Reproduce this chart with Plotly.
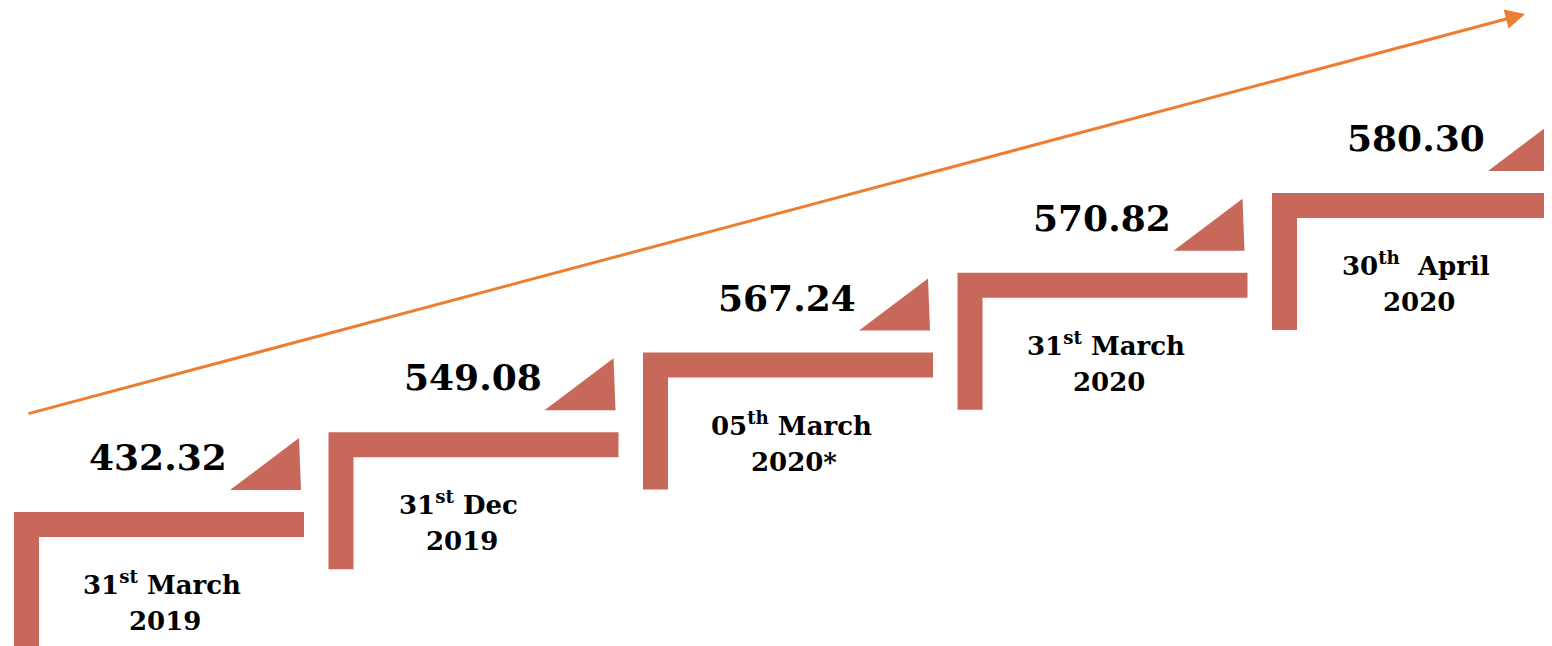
import plotly.graph_objects as go

# ---- data ----
values = [432.32, 549.08, 567.24, 570.82, 580.30]
day = ["31", "31", "05", "31", "30"]
suffix = ["st", "st", "th", "st", "th"]
month = ["March", "Dec", "March", "March", "April"]
year = ["2019", "2019", "2020*", "2020", "2020"]

# ---- layout / style constants ----
W_PX, H_PX = 1552, 646
BODY = 8  # default page margin around the figure
X0, DX = 14, 314.5
Y0, DY = 512, 79.75
BAR_W, BAR_T, LEG = 290, 25, 137
STEP_COLOR = "#C8685A"
ARROW_COLOR = "#ED7D31"
FONT = "DejaVu Serif"
label_dx = [0, -18, 0, 0, -4]


def poly_path(xs, ys):
    pts = " L ".join(f"{x},{y}" for x, y in zip(xs, ys))
    return f"M {pts} Z"


fig = go.Figure()
annotations = []
shapes = []

for i, v in enumerate(values):
    x0 = X0 + i * DX
    y0 = Y0 - i * DY
    # L-shaped step
    xs = [x0, x0 + BAR_W, x0 + BAR_W, x0 + BAR_T, x0 + BAR_T, x0]
    ys = [y0, y0, y0 + BAR_T, y0 + BAR_T, y0 + LEG, y0 + LEG]
    shapes.append(dict(type="path", xref="x", yref="y", path=poly_path(xs, ys),
                       fillcolor=STEP_COLOR, line=dict(width=0), layer="below"))
    # triangle
    tx = [x0 + 216, x0 + 285, x0 + 287]
    ty = [y0 - 22, y0 - 74, y0 - 22]
    shapes.append(dict(type="path", xref="x", yref="y", path=poly_path(tx, ty),
                       fillcolor=STEP_COLOR, line=dict(width=0), layer="below"))
    # value
    annotations.append(dict(x=x0 + 144, y=y0 - 55, xref="x", yref="y",
                            text=f"{v:.2f}", showarrow=False,
                            font=dict(family=FONT, size=36, color="black", weight="bold"),
                            xanchor="center", yanchor="middle"))
    # date lines
    sep = "\u00a0 " if month[i] == "April" else " "
    annotations.append(dict(x=x0 + 148 + label_dx[i], y=y0 + 71, xref="x", yref="y",
                            text=f"{day[i]}<sup>{suffix[i]}</sup>{sep}{month[i]}",
                            showarrow=False,
                            font=dict(family=FONT, size=26, color="black", weight="bold"),
                            xanchor="center", yanchor="middle"))
    annotations.append(dict(x=x0 + 151 + label_dx[i], y=y0 + 109, xref="x", yref="y",
                            text=f"{year[i]}", showarrow=False,
                            font=dict(family=FONT, size=26, color="black", weight="bold"),
                            xanchor="center", yanchor="middle"))

# trend arrow
annotations.append(dict(x=1525, y=14, ax=27, ay=414, xref="x", yref="y",
                        axref="x", ayref="y", showarrow=True, text="",
                        arrowhead=2, arrowsize=1.3, arrowwidth=3,
                        arrowcolor=ARROW_COLOR))

fig.update_layout(
    width=W_PX - BODY, height=H_PX - BODY, autosize=False,
    margin=dict(l=0, r=0, t=0, b=0),
    paper_bgcolor="white", plot_bgcolor="white",
    xaxis=dict(range=[BODY, W_PX], visible=False, fixedrange=True),
    yaxis=dict(range=[H_PX, BODY], visible=False, fixedrange=True),
    annotations=annotations,
    shapes=shapes,
    showlegend=False,
)

fig.write_html("out.html")
